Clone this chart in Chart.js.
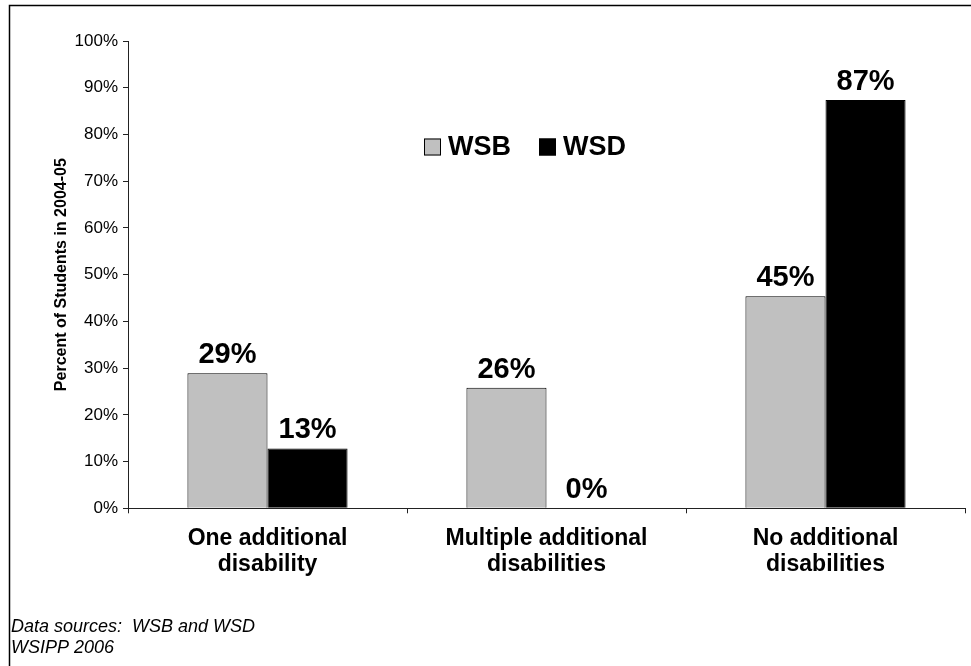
<!DOCTYPE html>
<html>
<head>
<meta charset="utf-8">
<style>
  html, body { margin: 0; padding: 0; background: #ffffff; }
  #wrap { width: 971px; height: 666px; position: relative; }
</style>
<script src="https://cdn.jsdelivr.net/npm/chart.js@4.4.1/dist/chart.umd.min.js"></script>
</head>
<body>
<div id="wrap"><canvas id="c" width="971" height="666"></canvas></div>
<script>
// Categories (two-line labels) and series values, percent of students in 2004-05
const categories = [
  ['One additional', 'disability'],
  ['Multiple additional', 'disabilities'],
  ['No additional', 'disabilities']
];
const seriesNames = ['WSB', 'WSD'];
const wsbValues = [28.9, 25.8, 45.4];
const wsdValues = [12.8, 0, 87.4];
const yTicks = [0, 10, 20, 30, 40, 50, 60, 70, 80, 90, 100];
const axisTitle = 'Percent of Students in 2004-05';
const footnotes = ['Data sources:  WSB and WSD', 'WSIPP 2006'];

const FONT = '"Liberation Sans", Arial, Helvetica, sans-serif';

// Background, outer frame and footnote text
const framePlugin = {
  id: 'frame',
  beforeDraw(chart) {
    const ctx = chart.ctx;
    ctx.save();
    ctx.fillStyle = '#ffffff';
    ctx.fillRect(0, 0, chart.width, chart.height);
    ctx.strokeStyle = '#000000';
    ctx.lineWidth = 1.5;
    ctx.beginPath();
    ctx.moveTo(9.5, chart.height + 2);
    ctx.lineTo(9.5, 5.5);
    ctx.lineTo(chart.width + 2, 5.5);
    ctx.stroke();
    ctx.restore();
  },
  afterDraw(chart) {
    const ctx = chart.ctx;
    ctx.save();
    ctx.fillStyle = '#000000';
    ctx.font = 'italic 18px ' + FONT;
    ctx.textAlign = 'left';
    ctx.textBaseline = 'alphabetic';
    ctx.fillText(footnotes[0], 11, 632);
    ctx.fillText(footnotes[1], 11, 653);
    ctx.restore();
  }
};

// Legend drawn inside the plot area from the dataset labels and colours
const insetLegend = {
  id: 'insetLegend',
  afterDraw(chart) {
    const ctx = chart.ctx;
    const xs = [424, 539];
    const yc = 147;
    ctx.save();
    chart.data.datasets.forEach((ds, i) => {
      const x = xs[i];
      ctx.fillStyle = ds.backgroundColor;
      ctx.fillRect(x, yc - 8.5, 17, 17);
      ctx.strokeStyle = '#000000';
      ctx.lineWidth = 1;
      ctx.strokeRect(x + 0.5, yc - 8, 16, 16);
      ctx.fillStyle = '#000000';
      ctx.font = 'bold 27px ' + FONT;
      ctx.textAlign = 'left';
      ctx.textBaseline = 'middle';
      ctx.fillText(ds.label, x + 24, yc + 1);
    });
    ctx.restore();
  }
};

// Percentage labels above each bar
const valueLabels = {
  id: 'valueLabels',
  afterDatasetsDraw(chart) {
    const ctx = chart.ctx;
    ctx.save();
    ctx.fillStyle = '#000000';
    ctx.font = 'bold 29px ' + FONT;
    ctx.textAlign = 'center';
    ctx.textBaseline = 'alphabetic';
    chart.data.datasets.forEach((ds, di) => {
      const meta = chart.getDatasetMeta(di);
      meta.data.forEach((bar, i) => {
        const v = ds.data[i];
        ctx.fillText(Math.round(v) + '%', bar.x, bar.y - 10);
      });
    });
    ctx.restore();
  }
};

new Chart(document.getElementById('c'), {
  type: 'bar',
  data: {
    labels: categories,
    datasets: [
      {
        label: seriesNames[0],
        data: wsbValues,
        backgroundColor: '#c0c0c0',
        borderColor: '#000000',
        borderWidth: 1,
        categoryPercentage: 0.574,
        barPercentage: 1.0
      },
      {
        label: seriesNames[1],
        data: wsdValues,
        backgroundColor: '#000000',
        borderColor: '#000000',
        borderWidth: 1,
        categoryPercentage: 0.574,
        barPercentage: 1.0
      }
    ]
  },
  options: {
    responsive: false,
    animation: false,
    devicePixelRatio: 1,
    layout: { padding: { top: 41, right: 6, bottom: 0, left: 0 } },
    plugins: {
      legend: { display: false },
      tooltip: { enabled: false }
    },
    scales: {
      x: {
        grid: {
          display: true,
          drawOnChartArea: false,
          drawTicks: true,
          tickLength: 5,
          color: '#222222',
          offset: true
        },
        border: { display: true, color: '#222222', width: 1 },
        ticks: {
          color: '#000000',
          padding: 12,
          font: { family: FONT, size: 23, weight: 'bold', lineHeight: 1.13 }
        },
        afterFit(scale) { scale.height = 157.7; }
      },
      y: {
        min: 0,
        max: 100,
        grid: {
          display: true,
          drawOnChartArea: false,
          drawTicks: true,
          tickLength: 5,
          color: '#222222'
        },
        border: { display: true, color: '#222222', width: 1 },
        afterBuildTicks(scale) {
          scale.ticks = yTicks.map(v => ({ value: v }));
        },
        ticks: {
          color: '#000000',
          padding: 5,
          font: { family: FONT, size: 17 },
          callback: (v) => v + '%'
        },
        title: {
          display: true,
          text: axisTitle,
          color: '#000000',
          font: { family: FONT, size: 16, weight: 'bold' },
          padding: { top: 52, bottom: 0 }
        },
        afterFit(scale) { scale.width = 128; }
      }
    }
  },
  plugins: [framePlugin, insetLegend, valueLabels]
});
</script>
</body>
</html>
